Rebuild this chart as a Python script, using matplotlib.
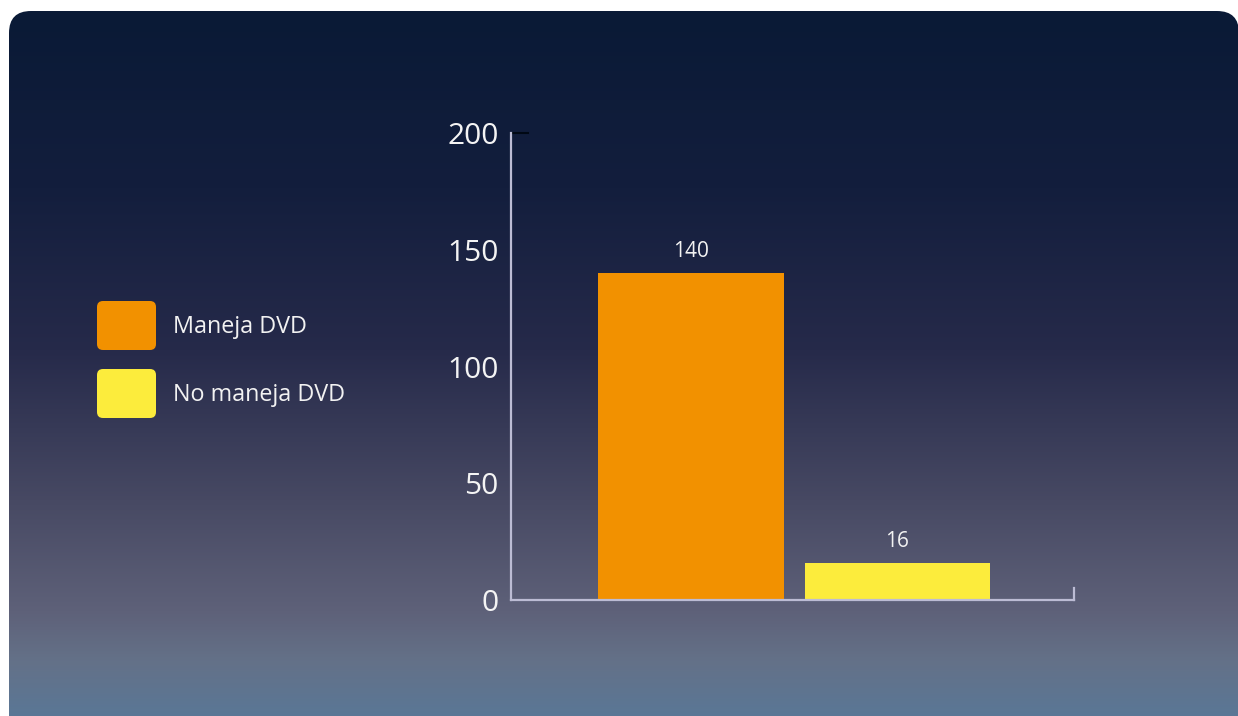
# plot.py
# bar chart: how many handle a DVD, on a dark gradient panel

import numpy as np
import matplotlib.pyplot as plt
from matplotlib.colors import LinearSegmentedColormap
from matplotlib.patches import FancyBboxPatch

categories = ["Maneja DVD", "No maneja DVD"]
values = [140, 16]
bar_colors = ["#f29100", "#fcec3c"]
y_ticks = [0, 50, 100, 150, 200]

W, H = 1238, 716
plt.rcParams['font.family'] = ['Open Sans', 'DejaVu Sans']

fig = plt.figure(figsize=(W / 100, H / 100), dpi=100)
fig.patch.set_facecolor("white")

# background in pixel coords
bg = fig.add_axes([0, 0, 1, 1])
bg.set_xlim(0, W)
bg.set_ylim(H, 0)
bg.axis("off")

grad = LinearSegmentedColormap.from_list("bg", [
    (0.00, "#0a1a36"), (0.25, "#131e3d"), (0.48, "#262a4a"),
    (0.70, "#484a64"), (0.85, "#5e6179"), (0.92, "#647188"), (1.00, "#5a7796")])
g = np.linspace(0, 1, 256).reshape(-1, 1)
img = bg.imshow(g, cmap=grad, aspect="auto", extent=[9, W + 2, H + 2, 11])
panel = FancyBboxPatch((9, 11), W - 8, H + 40, boxstyle="round,pad=0,rounding_size=22",
                       facecolor="none", edgecolor="none")
bg.add_patch(panel)
img.set_clip_path(panel)

# legend swatches
for i, (lab, col) in enumerate(zip(categories, bar_colors)):
    y0 = 301 + i * 68
    bg.add_patch(FancyBboxPatch((97, y0), 59, 49, boxstyle="round,pad=0,rounding_size=6",
                                facecolor=col, edgecolor="none"))
    bg.text(173, y0 + 26, lab, color="#f2f2f2", fontsize=16.8, va="center", ha="left")

# chart axes
ax = fig.add_axes([511 / W, 1 - 600 / H, 563 / W, 467 / H])
ax.patch.set_alpha(0)
x = np.arange(len(values))
ax.bar(x, values, width=0.9, color=bar_colors)
ax.set_xlim(-0.872, 1.855)
ax.set_ylim(0, 200)
ax.set_yticks(y_ticks)
ax.set_xticks([])
ax.tick_params(axis="y", length=0, pad=9, labelsize=21.5, labelcolor="#f4f4f4")
for s in ["top", "right"]:
    ax.spines[s].set_visible(False)
for s in ["left", "bottom"]:
    ax.spines[s].set_color("#bcbcd4")
    ax.spines[s].set_linewidth(1.6)

# end marks
ax.plot([1, 1], [0, 0.025], color="#bcbcd4", lw=1.6, transform=ax.transAxes, clip_on=False)
ax.plot([0, 0.03], [1, 1], color="#000814", lw=1.5, transform=ax.transAxes, clip_on=False)

for xi, v in zip(x, values):
    ax.annotate(str(v), (xi, v), xytext=(0, 8), textcoords="offset points",
                ha="center", va="bottom", color="#f2f2f2", fontsize=15)

fig.savefig("out.png", dpi=100)
